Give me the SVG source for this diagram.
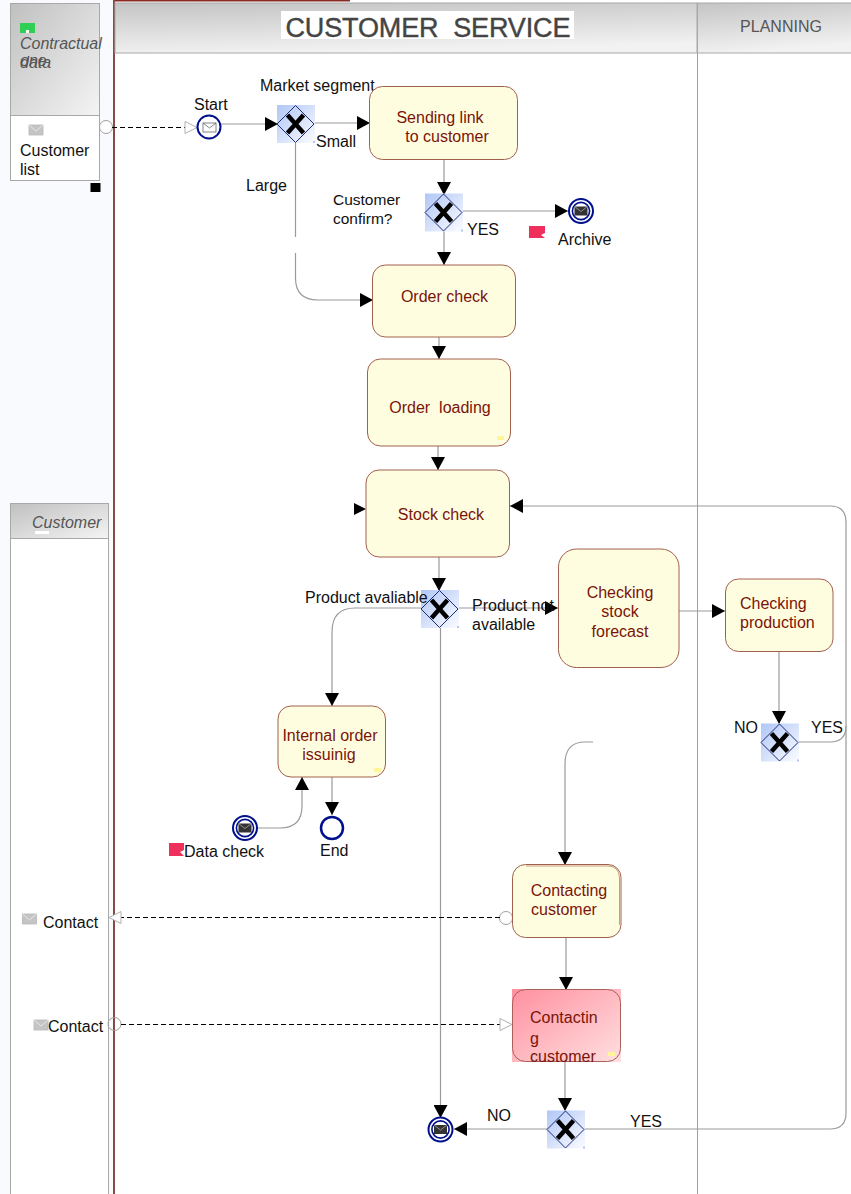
<svg xmlns="http://www.w3.org/2000/svg" width="851" height="1194" viewBox="0 0 851 1194">
<defs>
<linearGradient id="hd" x1="0" y1="0" x2="1" y2="1"><stop offset="0" stop-color="#c0c0c0"/><stop offset="1" stop-color="#f4f4f4"/></linearGradient>
<linearGradient id="hd2" x1="0" y1="0" x2="0.25" y2="1"><stop offset="0" stop-color="#c4c4c4"/><stop offset="1" stop-color="#f2f2f2"/></linearGradient>
<linearGradient id="gw" x1="0" y1="0" x2="1" y2="1"><stop offset="0" stop-color="#b0c6f6"/><stop offset="1" stop-color="#fbfcff"/></linearGradient>
<linearGradient id="pink" x1="0" y1="0" x2="1" y2="1"><stop offset="0" stop-color="#ff90a0"/><stop offset="1" stop-color="#ffe0e0"/></linearGradient>
<marker id="arr" markerUnits="userSpaceOnUse" markerWidth="14" markerHeight="14" refX="13" refY="7" orient="auto"><path d="M0 0L13 7L0 14Z" fill="#000"/></marker>
<marker id="open" markerUnits="userSpaceOnUse" markerWidth="14" markerHeight="14" refX="13" refY="7" orient="auto"><path d="M1 1L13 7L1 13Z" fill="#fff" stroke="#b0b0b0"/></marker>
<g id="gwshape">
<rect x="-19" y="-19" width="38" height="38" fill="url(#gw)"/>
<rect x="17" y="17" width="2" height="2" fill="#b0c6f6"/>
<path d="M-.5-18.500L18 0L-.5 18.500L-19 0Z" fill="none" stroke="#1c2a7a" stroke-width="1"/>
<path d="M-8.500-9L7.500 9M7.500-9L-8.500 9" stroke="#000" stroke-width="4.500" fill="none"/>
</g>
<g id="env"><rect x="-7" y="-5" width="14" height="10" fill="#c4c4c4" stroke="#b8b8b8" stroke-width=".8"/><path d="M-7-5L0 1L7-5" fill="none" stroke="#e8e8e8"/></g>
<g id="endmsg"><circle r="12" fill="#fff" stroke="#000f8c" stroke-width="2"/><circle r="8.600" fill="#fff" stroke="#000f8c" stroke-width="1.600"/><rect x="-6.500" y="-4.500" width="13" height="9" fill="#333"/><path d="M-6.500-4.500L0 .5L6.500-4.500" fill="none" stroke="#aaa" stroke-width=".8"/></g>
</defs>
<style>
text{font-family:"Liberation Sans",Arial,sans-serif}
.l{font-size:16px;fill:#111}
.t{font-size:16px;fill:#7a1408;text-anchor:middle}
.s{font-size:16px;fill:#7a1408}
.i{font-size:16px;font-style:italic;fill:#555}
.task{fill:#fffde0;stroke:#a0604e;stroke-width:1}
.c{fill:none;stroke:#9a9a9a;stroke-width:1.2;marker-end:url(#arr)}
.n{fill:none;stroke:#9a9a9a;stroke-width:1.2}
.d{fill:none;stroke:#000;stroke-width:1.200;stroke-dasharray:5 3;marker-end:url(#open)}
.pool{fill:#fff;stroke:#a8a8a8;stroke-width:1}
.tag{fill:#fff59a}
.red{fill:#f0305c}
</style>

<g id="background">
<rect width="851" height="1194" fill="#fff"/>
<rect x="0" y="0" width="114" height="1194" fill="#f8fafd"/>
<rect x="113" y="0" width="2" height="1194" fill="#8a4a44"/>
<rect x="115" y="0" width="235" height="1.500" fill="#8a2a24"/>
<line x1="697.500" y1="3" x2="697.500" y2="1194" stroke="#a0a0a0"/>
</g>

<g id="lane-customer-service">
<rect x="115" y="3" width="582" height="50" fill="url(#hd2)" stroke="#a8a8a8"/>
<rect x="281" y="11" width="293" height="28" fill="#fff"/>
<text x="428" y="37" text-anchor="middle" font-size="27" fill="#444" stroke="#444" stroke-width=".4" textLength="285" lengthAdjust="spacing" xml:space="preserve">CUSTOMER  SERVICE</text>
</g>
<g id="lane-planning">
<rect x="697.500" y="3" width="154" height="50" fill="url(#hd2)" stroke="#a8a8a8"/>
<text x="781" y="32" text-anchor="middle" font-size="16" fill="#555">PLANNING</text>
</g>

<g id="pool-contractual">
<rect class="pool" x="10.500" y="3.500" width="89" height="177"/>
<rect x="10.500" y="3.500" width="89" height="112" fill="url(#hd)" stroke="#a8a8a8"/>
<rect x="20" y="23" width="15" height="10" fill="#2fcf55"/>
<rect x="26" y="30" width="3" height="3" fill="#fff"/>
<text class="i" x="20" y="48.500">Contractual</text>
<text class="i" x="20" y="65.500">one</text>
<text class="i" x="20" y="67.500">data</text>
<use href="#env" x="36" y="130"/>
<text class="l" x="20" y="155.500">Customer</text>
<text class="l" x="20" y="174.500">list</text>
<rect x="90.500" y="183" width="10" height="9" fill="#000"/>
</g>

<g id="pool-customer">
<rect class="pool" x="10.500" y="503.500" width="98" height="700"/>
<rect x="10.500" y="503.500" width="98" height="35" fill="url(#hd)" stroke="#a8a8a8"/>
<rect x="35" y="531" width="14" height="3" fill="#fff"/>
<text class="i" x="32" y="528">Customer</text>
<use href="#env" x="29.500" y="919"/>
<text class="l" x="43" y="928">Contact</text>
<use href="#env" x="41" y="1025"/>
<text class="l" x="48" y="1032">Contact</text>
</g>

<g id="connectors">
<circle cx="106" cy="127" r="6.500" fill="#fff" stroke="#a0a0a0"/>
<path class="d" d="M112 127.500H197"/>
<path class="c" d="M221 124H278"/>
<path class="c" d="M314 123H370"/>
<path class="n" d="M295.500 142V237"/>
<path class="c" d="M295.500 253V278Q295.500 300 318 300H373"/>
<path class="c" d="M444 159V195"/>
<path class="c" d="M462 211H568"/>
<path class="c" d="M444 231V265"/>
<path class="c" d="M439 337V359"/>
<path class="c" d="M438 446V470"/>
<path class="c" d="M439 557V591"/>
<path class="c" d="M458 608H558"/>
<path class="c" d="M421 608H355Q332 608 332 632V706"/>
<path class="c" d="M440.500 627V1118"/>
<path class="c" d="M679 611H725"/>
<path class="c" d="M779 652V724"/>
<path class="n" d="M798 742H830Q846 742 846 726V522Q846 506 830 506H520"/>
<path class="c" d="M522 506H510"/>
<path class="c" d="M245 828H280Q302 828 302 806V777"/>
<path class="c" d="M332 777V815"/>
<path class="c" d="M593 742H585Q565 742 565 764V865"/>
<path class="c" d="M566 938V990"/>
<path class="c" d="M565 1062V1111"/>
<path class="c" d="M547 1129H454"/>
<path class="n" d="M584 1129H830Q846 1129 846 1113V726"/>
<path d="M354 503L366 509L354 515Z" fill="#000"/>
<circle cx="506" cy="918" r="6.500" fill="#fff" stroke="#a0a0a0"/>
<path class="d" d="M500 917.500H109"/>
<circle cx="114.500" cy="1024" r="6.500" fill="none" stroke="#a0a0a0"/>
<path class="d" d="M121 1024.500H512"/>
</g>

<g id="start"><circle cx="209" cy="127" r="11.500" fill="#fff" stroke="#000f8c" stroke-width="2"/><rect x="203" y="123" width="13" height="9" fill="#fff" stroke="#666" stroke-width=".8"/><path d="M203 123L209.500 128L216 123" fill="none" stroke="#666" stroke-width=".8"/><text class="l" x="194" y="109.500">Start</text></g>
<g id="gw-market"><use href="#gwshape" x="296" y="124"/><text class="l" x="260" y="90.500">Market segment</text><text class="l" x="316" y="147">Small</text><text class="l" x="246" y="190.500">Large</text></g>
<g id="task-sending"><rect class="task" x="369.500" y="86.500" width="148" height="73" rx="13"/><text class="t" x="440" y="122.500">Sending link</text><text class="t" x="447" y="141.500">to customer</text></g>
<g id="gw-confirm"><use href="#gwshape" x="444" y="212.500"/><text class="l" x="333" y="204.500" style="font-size:15.500px">Customer</text><text class="l" x="333" y="223.500" style="font-size:15.500px">confirm?</text><text class="l" x="467" y="235">YES</text></g>
<g id="end-archive"><use href="#endmsg" x="581" y="211"/><path class="red" d="M529 226H545V233L541 235L545 238H529Z"/><text class="l" x="558" y="245">Archive</text></g>
<g id="task-order-check"><rect class="task" x="372.500" y="265" width="143" height="72" rx="13"/><text class="t" x="444.500" y="302">Order check</text></g>
<g id="task-order-loading"><rect class="task" x="367.500" y="359" width="143" height="87" rx="13"/><rect class="tag" x="497" y="436" width="7" height="4"/><text class="t" x="440" y="412.500" xml:space="preserve">Order  loading</text></g>
<g id="task-stock-check"><rect class="task" x="366" y="470" width="143.500" height="87" rx="13"/><text class="t" x="441" y="520">Stock check</text></g>
<g id="gw-product"><use href="#gwshape" x="440" y="609"/><text class="l" x="305" y="603">Product avaliable</text><text class="l" x="472" y="611">Product not</text><text class="l" x="472" y="630">available</text></g>
<g id="task-forecast"><rect class="task" x="558.500" y="549" width="120.500" height="118.500" rx="18"/><text class="t" x="620" y="598">Checking</text><text class="t" x="620" y="617">stock</text><text class="t" x="620" y="637">forecast</text></g>
<g id="task-production"><rect class="task" x="725.500" y="579" width="107.500" height="72.500" rx="13"/><text class="s" x="740" y="609">Checking</text><text class="s" x="740" y="628">production</text></g>
<g id="gw-planning"><use href="#gwshape" x="780" y="742.500"/><text class="l" x="734" y="733">NO</text><text class="l" x="811" y="732.500">YES</text></g>
<g id="task-internal"><rect class="task" x="278" y="706" width="107.500" height="71" rx="13"/><rect class="tag" x="374" y="768" width="7" height="4"/><text class="t" x="330" y="741">Internal order</text><text class="t" x="329" y="759.500">issuinig</text></g>
<g id="event-data-check"><use href="#endmsg" x="245" y="828"/><path class="red" d="M169 843H184V850L180 852L184 856H169Z"/><text class="l" x="184" y="856.500">Data check</text></g>
<g id="event-end"><circle cx="332" cy="828" r="11" fill="#fff" stroke="#000f8c" stroke-width="2.500"/><text class="l" x="320" y="856">End</text></g>
<g id="task-contacting-1"><rect class="task" x="512.500" y="864.500" width="108.500" height="73" rx="13"/><path d="M526 866H608Q619 866 619.500 878V925" fill="none" stroke="#a0604e" stroke-width=".6"/><text class="t" x="569" y="896">Contacting</text><text class="t" x="564" y="915">customer</text></g>
<g id="task-contacting-2"><rect x="512" y="989" width="109" height="73" fill="url(#pink)"/><rect x="512.500" y="989.500" width="108" height="72" rx="13" fill="none" stroke="#a8605a"/><rect class="tag" x="608" y="1052" width="7" height="4"/><text class="s" x="530" y="1023">Contactin</text><text class="s" x="530" y="1044">g</text><text class="s" x="530" y="1062">customer</text></g>
<g id="gw-final"><use href="#gwshape" x="566" y="1129.500"/><text class="l" x="487" y="1121">NO</text><text class="l" x="630" y="1127">YES</text></g>
<g id="end-final"><use href="#endmsg" x="440.500" y="1129.500"/></g>
</svg>
